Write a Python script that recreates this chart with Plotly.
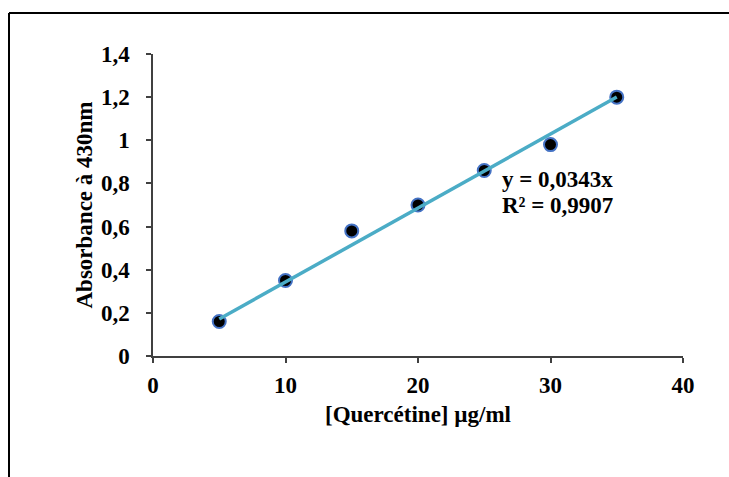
import plotly.graph_objects as go

conc = [5, 10, 15, 20, 25, 30, 35]
absorb = [0.16, 0.35, 0.58, 0.70, 0.86, 0.98, 1.20]
slope = 0.0343
r2 = 0.9907
x_ticks = [0, 10, 20, 30, 40]
x_tick_text = ["<b>0</b>", "<b>10</b>", "<b>20</b>", "<b>30</b>", "<b>40</b>"]
y_ticks = [0, 0.2, 0.4, 0.6, 0.8, 1.0, 1.2, 1.4]
y_tick_text = ["<b>0</b>", "<b>0,2</b>", "<b>0,4</b>", "<b>0,6</b>", "<b>0,8</b>", "<b>1</b>", "<b>1,2</b>", "<b>1,4</b>"]
eq_text = "y = 0,0343x"
r2_text = "R² = 0,9907"

fit_x = [min(conc), max(conc)]
fit_y = [slope * v for v in fit_x]

font_family = "Liberation Serif, Times New Roman, serif"
FS = 23

L, R, T, B = 153, 46, 54, 120.5
PW, PH = 729 - L - R, 477 - T - B


def px_x(p):
    return (p - L) / PW


def px_y(p):
    return (477 - B - p) / PH


fig = go.Figure()
fig.add_trace(go.Scatter(
    x=conc, y=absorb, mode="markers",
    marker=dict(color="black", size=13, line=dict(color="#4472C4", width=2)),
    showlegend=False, cliponaxis=False,
))
fig.add_trace(go.Scatter(
    x=fit_x, y=fit_y, mode="lines",
    line=dict(color="#4BACC6", width=3.5),
    showlegend=False, cliponaxis=False,
))

for txt, ypix in [(eq_text, 180), (r2_text, 206)]:
    fig.add_annotation(
        x=px_x(500), y=px_y(ypix), xref="paper", yref="paper", showarrow=False,
        text="<b>" + txt + "</b>",
        font=dict(family=font_family, size=FS, color="black"),
        xanchor="left", yanchor="middle",
    )

axis_common = dict(
    showgrid=False, zeroline=False, showline=True, linecolor="#404040", linewidth=1.5,
    ticks="outside", ticklen=5, tickcolor="#404040", tickwidth=1.5,
    tickfont=dict(family=font_family, size=FS, color="black"),
)

fig.update_xaxes(
    range=[0, 40], tickvals=x_ticks, ticktext=x_tick_text, ticklabelstandoff=3,
    title=dict(text="<b>[Quercétine] µg/ml</b>", font=dict(family=font_family, size=FS, color="black"), standoff=9),
    **axis_common,
)
fig.update_yaxes(
    range=[0, 1.4], tickvals=y_ticks, ticktext=y_tick_text, ticklabelstandoff=12,
    title=dict(text="<b>Absorbance à 430nm</b>", font=dict(family=font_family, size=FS, color="black"), standoff=2),
    **axis_common,
)

fig.update_layout(
    width=729, height=477,
    margin=dict(l=L, r=R, t=T, b=B),
    plot_bgcolor="white", paper_bgcolor="white",
    shapes=[
        dict(type="line", xref="paper", yref="paper",
             x0=px_x(9), x1=px_x(745), y0=px_y(13), y1=px_y(13),
             line=dict(color="black", width=2)),
        dict(type="line", xref="paper", yref="paper",
             x0=px_x(9), x1=px_x(9), y0=px_y(13), y1=px_y(490),
             line=dict(color="black", width=2)),
    ],
)

fig.write_html("out.html")
